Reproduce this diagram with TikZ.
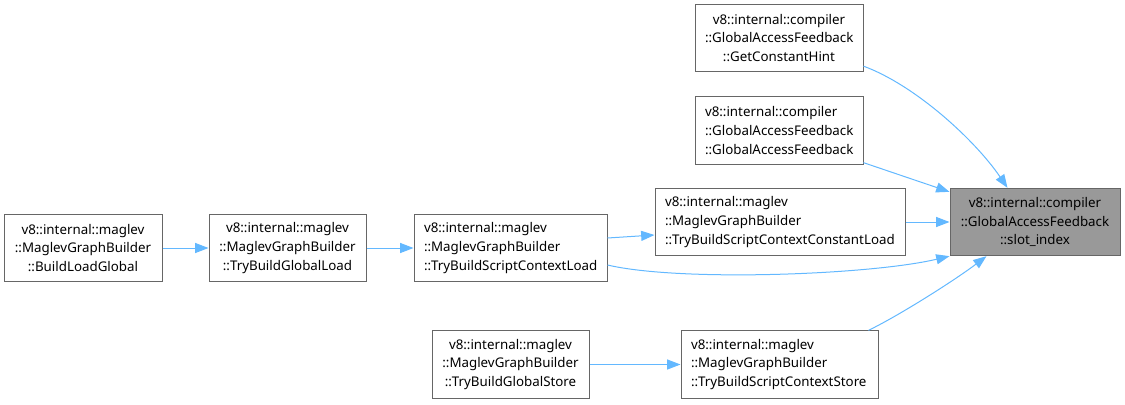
\documentclass[tikz,border=0pt]{standalone}
\usepackage{fontspec}
\setmainfont{Noto Sans}
\usepackage{tikz}
\usetikzlibrary{arrows.meta,calc}
\definecolor{frame}{HTML}{666666}
\definecolor{hit}{HTML}{999999}
\definecolor{edge}{HTML}{63B8FF}

\begin{document}
\begin{tikzpicture}[x=0.75pt,y=-0.75pt,font=\fontsize{10}{14.2}\selectfont,
  fn/.style={draw=frame,fill=white,line width=0.75pt,inner xsep=7.5pt,
    inner ysep=0pt,minimum height=50.5pt},
  lft/.style={align=left},
  ctr/.style={align=center},
  call/.style={draw=edge,line width=0.75pt,
    -{Triangle[length=10pt,width=7.5pt]}}]
  \useasboundingbox (0,0) rectangle (1125,404);

  \node[fn,ctr,fill=hit,text width=112.5pt] (slot) at (1035,222)
    {v8::internal::compiler\\::GlobalAccessFeedback\\::slot\_index};
  \node[fn,ctr,text width=111pt] (hint) at (779,38)
    {v8::internal::compiler\\::GlobalAccessFeedback\\::GetConstantHint};
  \node[fn,lft,text width=111pt] (gaf) at (779,130.5)
    {v8::internal::compiler\\::GlobalAccessFeedback\\::GlobalAccessFeedback};
  \node[fn,lft,text width=172.5pt] (cload) at (780,222)
    {v8::internal::maglev\\::MaglevGraphBuilder\\::TryBuildScriptContextConstantLoad};
  \node[fn,ctr,text width=103.5pt] (blg) at (83,248)
    {v8::internal::maglev\\::MaglevGraphBuilder\\::BuildLoadGlobal};
  \node[fn,ctr,text width=102.75pt] (tgl) at (287.5,248)
    {v8::internal::maglev\\::MaglevGraphBuilder\\::TryBuildGlobalLoad};
  \node[fn,lft,text width=129.75pt] (tscl) at (510.5,248)
    {v8::internal::maglev\\::MaglevGraphBuilder\\::TryBuildScriptContextLoad};
  \node[fn,ctr,text width=102.75pt] (tgs) at (510.5,364.5)
    {v8::internal::maglev\\::MaglevGraphBuilder\\::TryBuildGlobalStore};
  \node[fn,lft,text width=132.75pt] (tscs) at (779.5,364.5)
    {v8::internal::maglev\\::MaglevGraphBuilder\\::TryBuildScriptContextStore};

  \draw[call] ($(hint.south east)+(0,-6)$) .. controls (915,85) and (975,140)
    .. ($(slot.north west)+(58,0)$);
  \draw[call] ($(gaf.south east)+(0,-2)$) -- ($(slot.north west)+(0,4)$);
  \draw[call] (cload.east) -- (slot.west);
  \draw[call] ($(tscl.east)+(0,17)$) .. controls (680,282) and (870,275)
    .. (slot.south west);
  \draw[call] ($(tscs.north east)+(-10,0)$) .. controls (900,315) and (955,280)
    .. ($(slot.south west)+(37,0)$);
  \draw[call] ($(tscl.east)+(0,-10)$) -- ($(cload.west)+(0,13)$);
  \draw[call] (blg) -- (tgl);
  \draw[call] (tgl) -- (tscl);
  \draw[call] (tgs) -- (tscs);
\end{tikzpicture}
\end{document}
